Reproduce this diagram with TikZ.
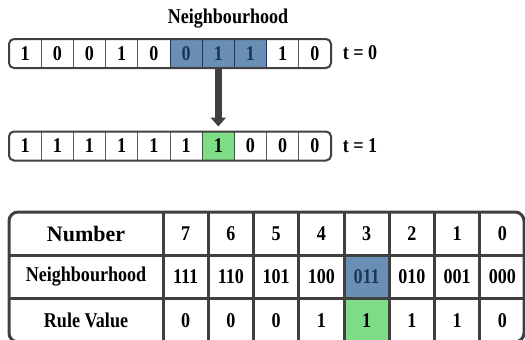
\documentclass[tikz,border=0pt]{standalone}
\usepackage{fontspec}
\setmainfont{Liberation Serif}
\newfontfamily\condserif[FakeStretch=0.86]{Liberation Serif}
\usetikzlibrary{arrows.meta}
\definecolor{frame}{HTML}{404040}
\definecolor{divider}{HTML}{5A5A5A}
\definecolor{nbblue}{HTML}{6A8FB6}
\definecolor{nbnavy}{HTML}{1E3656}
\definecolor{rgreen}{HTML}{7DDC85}
\definecolor{gborder}{HTML}{3A5A3C}
\tikzset{
  txt/.style={font=\condserif\fontsize{21}{23}\selectfont\bfseries, text=black},
  cellbox/.style={txt, minimum width=32.2pt, minimum height=29pt, inner sep=0pt, outer sep=0pt},
  plain/.style={cellbox},
  hiblue/.style={cellbox, fill=nbblue, text=nbnavy},
  higreen/.style={cellbox, fill=rgreen},
  tcell/.style={txt, minimum width=45.25pt, minimum height=43.5pt, inner sep=0pt, outer sep=0pt},
  tlabel/.style={txt, minimum width=154pt, minimum height=43.5pt, inner sep=0pt, outer sep=0pt},
  stripframe/.style={draw=frame, line width=2pt, rounded corners=5pt},
  thin/.style={draw=divider, line width=0.8pt},
  grid/.style={draw=frame, line width=3pt},
}
\begin{document}
\begin{tikzpicture}[x=1pt,y=-1pt]
\useasboundingbox (0,0) rectangle (525,340);
\clip (0,0) rectangle (525,340);

% title
\node[txt] (title) at (228,19) {Neighbourhood};

% strip t=0
\foreach \v/\s [count=\i from 0] in {1/plain,0/plain,0/plain,1/plain,0/plain,0/hiblue,1/hiblue,1/hiblue,1/plain,0/plain}
  \node[\s] (a\i) at ({9+32.2*(\i+0.5)},53.5) {\v};
% strip t=1
\foreach \v/\s [count=\i from 0] in {1/plain,1/plain,1/plain,1/plain,1/plain,1/plain,1/higreen,0/plain,0/plain,0/plain}
  \node[\s] (b\i) at ({9+32.2*(\i+0.5)},146) {\v};

\foreach \i in {0,...,8} {
  \draw[thin] (a\i.north east) -- (a\i.south east);
  \draw[thin] (b\i.north east) -- (b\i.south east);
}
\draw[draw=nbnavy, line width=1pt] (a5.north west) rectangle (a7.south east);
\draw[draw=nbnavy, line width=1pt] (a5.north east) -- (a5.south east) (a6.north east) -- (a6.south east);
\draw[draw=gborder, line width=1pt] (b6.north west) rectangle (b6.south east);
\draw[stripframe] (a0.north west) rectangle (a9.south east);
\draw[stripframe] (b0.north west) rectangle (b9.south east);

\node[txt] (t0) at (360,53) {t = 0};
\node[txt] (t1) at (360,146) {t = 1};

% arrow
\draw[frame, line width=7pt, -{Triangle[width=15pt,length=9pt]}, shorten >=5pt] (a6.south) -- (b6.north);

% table
\node[tlabel, font=\fontsize{22}{24}\selectfont\bfseries] (L1) at (86,233.5) {Number};
\node[tlabel] (L2) at (86,277) {Neighbourhood};
\node[tlabel] (L3) at (86,320.5) {Rule Value};
\foreach \n/\nb/\r [count=\j from 0] in {7/111/0,6/110/0,5/101/0,4/100/1,3/011/1,2/010/1,1/001/1,0/000/0} {
  \node[tcell] (n\j) at ({163+45.25*(\j+0.5)},233.5) {\n};
  \ifnum\j=4
    \node[tcell, fill=nbblue, text=nbnavy] (h\j) at ({163+45.25*(\j+0.5)},277) {\nb};
    \node[tcell, fill=rgreen] (r\j) at ({163+45.25*(\j+0.5)},320.5) {\r};
  \else
    \node[tcell] (h\j) at ({163+45.25*(\j+0.5)},277) {\nb};
    \node[tcell] (r\j) at ({163+45.25*(\j+0.5)},320.5) {\r};
  \fi
}
\coordinate (tl) at (9,212);
\coordinate (br) at (524,342);
\draw[grid] (L1.south west) -- (n7.south east);
\draw[grid] (L2.south west) -- (h7.south east);
\draw[grid] (L1.north east) -- (L3.south east);
\foreach \j in {0,...,6}
  \draw[grid] (n\j.north east) -- (r\j.south east);
\draw[grid, rounded corners=9pt] (tl) rectangle (br);
\end{tikzpicture}
\end{document}
